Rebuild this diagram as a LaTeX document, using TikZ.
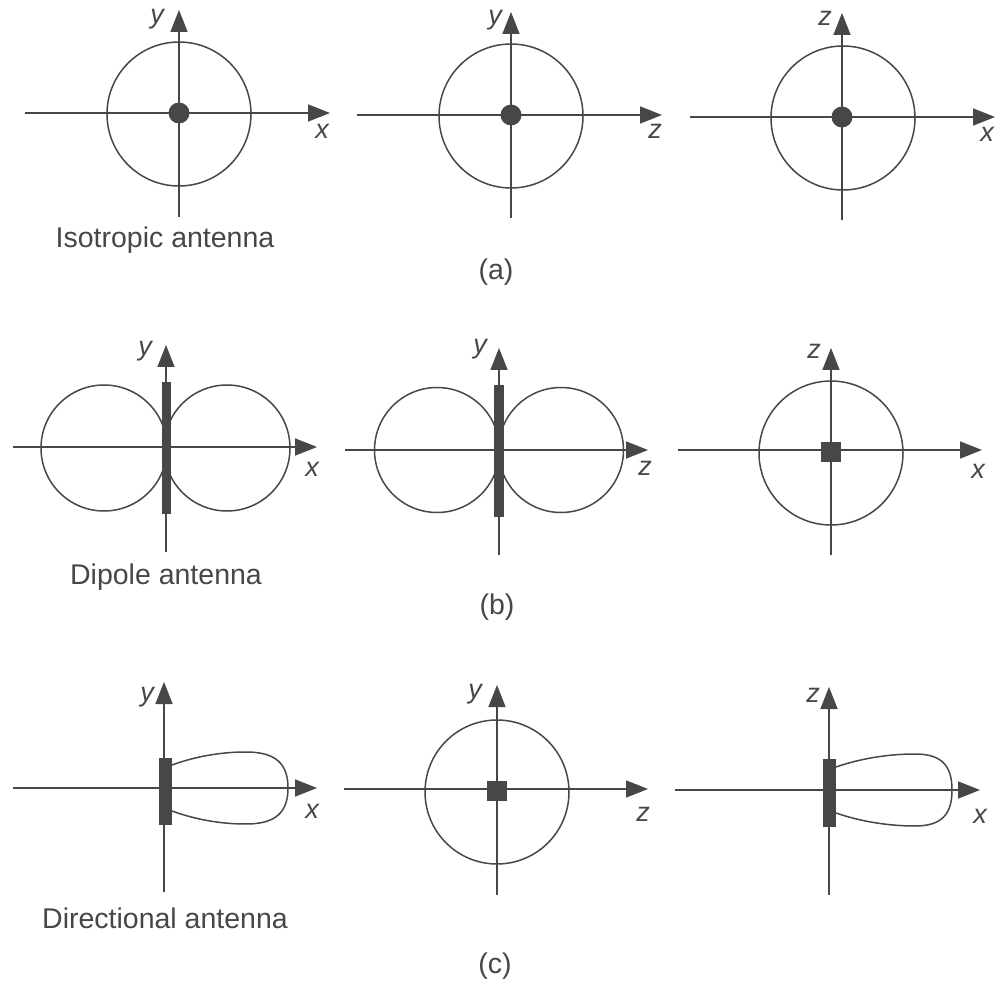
\documentclass[tikz,border=0pt]{standalone}
\usepackage{fontspec}
\setmainfont{Liberation Sans}
\usetikzlibrary{arrows.meta}
\definecolor{ink}{HTML}{474747}
\newcommand\axesPanel[7]{%
  \coordinate (#1W) at (#4,#3);
  \coordinate (#1E) at (#5,#3);
  \coordinate (#1N) at (#2,#6);
  \coordinate (#1S) at (#2,#7);
  \draw[axisline] (#1W) -- (#1E);
  \draw[axisline] (#1S) -- (#1N);
}
\tikzset{
  axisline/.style={draw=ink, line width=1.7pt, -{Triangle[length=22pt,width=17pt]}},
  pattern/.style={circle, draw=ink, line width=1.5pt, inner sep=0pt, outer sep=0pt, minimum size=#1},
  lobe/.style={draw=ink, line width=1.5pt},
  dotant/.style={circle, fill=ink, inner sep=0pt, minimum size=21pt},
  sqant/.style={rectangle, fill=ink, inner sep=0pt, minimum size=20pt},
  dipole/.style={rectangle, fill=ink, inner sep=0pt, minimum width=#1, minimum height=132pt},
  dirant/.style={rectangle, fill=ink, inner sep=0pt, minimum width=13pt, minimum height=67pt},
  axlabel/.style={text=ink, font=\fontsize{27}{32}\selectfont\itshape, inner sep=0pt},
  caption/.style={text=ink, font=\fontsize{28.5}{34}\selectfont, inner sep=0pt},
}
\begin{document}
\begin{tikzpicture}[x=1pt,y=-1pt]
\fill[white] (0,0) rectangle (997,984);
\useasboundingbox (0,0) rectangle (997,984);

% ---------------- Row (a): isotropic ----------------
\node[pattern=144pt] (a1c) at (179,114) {};
\axesPanel{a1}{179}{113}{25}{330}{10}{217}
\node[dotant] (a1d) at (179,113) {};
\node[axlabel] (a1y) at (157,19) {y};
\node[axlabel] (a1x) at (322,131) {x};

\node[pattern=144pt] (a2c) at (511,116) {};
\axesPanel{a2}{511}{115}{357}{662}{12}{218}
\node[dotant] (a2d) at (511,115) {};
\node[axlabel] (a2y) at (495,20) {y};
\node[axlabel] (a2z) at (655,131) {z};

\node[pattern=144pt] (a3c) at (843,118) {};
\axesPanel{a3}{842}{117}{690}{995}{13}{220}
\node[dotant] (a3d) at (842,117) {};
\node[axlabel] (a3z) at (825,18) {z};
\node[axlabel] (a3x) at (987,134) {x};

\node[caption] (capA) at (165,240) {Isotropic antenna};
\node[caption] (labA) at (496,272) {(a)};

% ---------------- Row (b): dipole ----------------
\node[pattern=126pt] (b1l) at (104,448) {};
\node[pattern=126pt] (b1r) at (227,448) {};
\axesPanel{b1}{166}{447}{13}{317}{345}{552}
\node[dipole=9pt] (b1a) at (166,448) {};
\node[axlabel] (b1y) at (145,351) {y};
\node[axlabel] (b1x) at (312,469) {x};

\node[pattern=125pt] (b2l) at (437,450) {};
\node[pattern=125pt] (b2r) at (561,450) {};
\axesPanel{b2}{499}{450}{345}{648}{348}{555}
\node[dipole=10pt] (b2a) at (499,451) {};
\node[axlabel] (b2y) at (480,349) {y};
\node[axlabel] (b2z) at (645,468) {z};

\node[pattern=144pt] (b3c) at (831,453) {};
\axesPanel{b3}{831}{450}{678}{982}{348}{555}
\node[sqant] (b3a) at (831,452) {};
\node[axlabel] (b3z) at (814,351) {z};
\node[axlabel] (b3x) at (978,471) {x};

\node[caption] (capB) at (166,577) {Dipole antenna};
\node[caption] (labB) at (497,607) {(b)};

% ---------------- Row (c): directional ----------------
\axesPanel{c1}{164}{788}{13}{317}{682}{892}
\draw[lobe, shift={(164,788)}] (8,-23) .. controls (30,-31) and (55,-36) .. (82,-36)
  .. controls (112,-36) and (124,-24) .. (124,0)
  .. controls (124,24) and (112,36) .. (82,36)
  .. controls (55,36) and (30,31) .. (8,23);
\node[dirant] (c1a) at (165.5,791) {};
\node[axlabel] (c1y) at (147,697) {y};
\node[axlabel] (c1x) at (312,811) {x};

\node[pattern=144pt] (c2c) at (497,792) {};
\axesPanel{c2}{497}{789}{344}{648}{685}{895}
\node[sqant] (c2a) at (497,791) {};
\node[axlabel] (c2y) at (475,694) {y};
\node[axlabel] (c2z) at (643,814) {z};

\axesPanel{c3}{829}{790}{675}{980}{687}{895}
\draw[lobe, shift={(829,790)}] (7,-23) .. controls (30,-31) and (58,-36) .. (86,-36)
  .. controls (113,-36) and (123,-24) .. (123,0)
  .. controls (123,24) and (113,36) .. (86,36)
  .. controls (58,36) and (30,31) .. (7,23);
\node[dirant, minimum height=68pt] (c3a) at (829.5,793) {};
\node[axlabel] (c3z) at (813,695) {z};
\node[axlabel] (c3x) at (980,816) {x};

\node[caption] (capC) at (165,918) {Directional antenna};
\node[caption] (labC) at (495,966) {(c)};
\end{tikzpicture}
\end{document}
